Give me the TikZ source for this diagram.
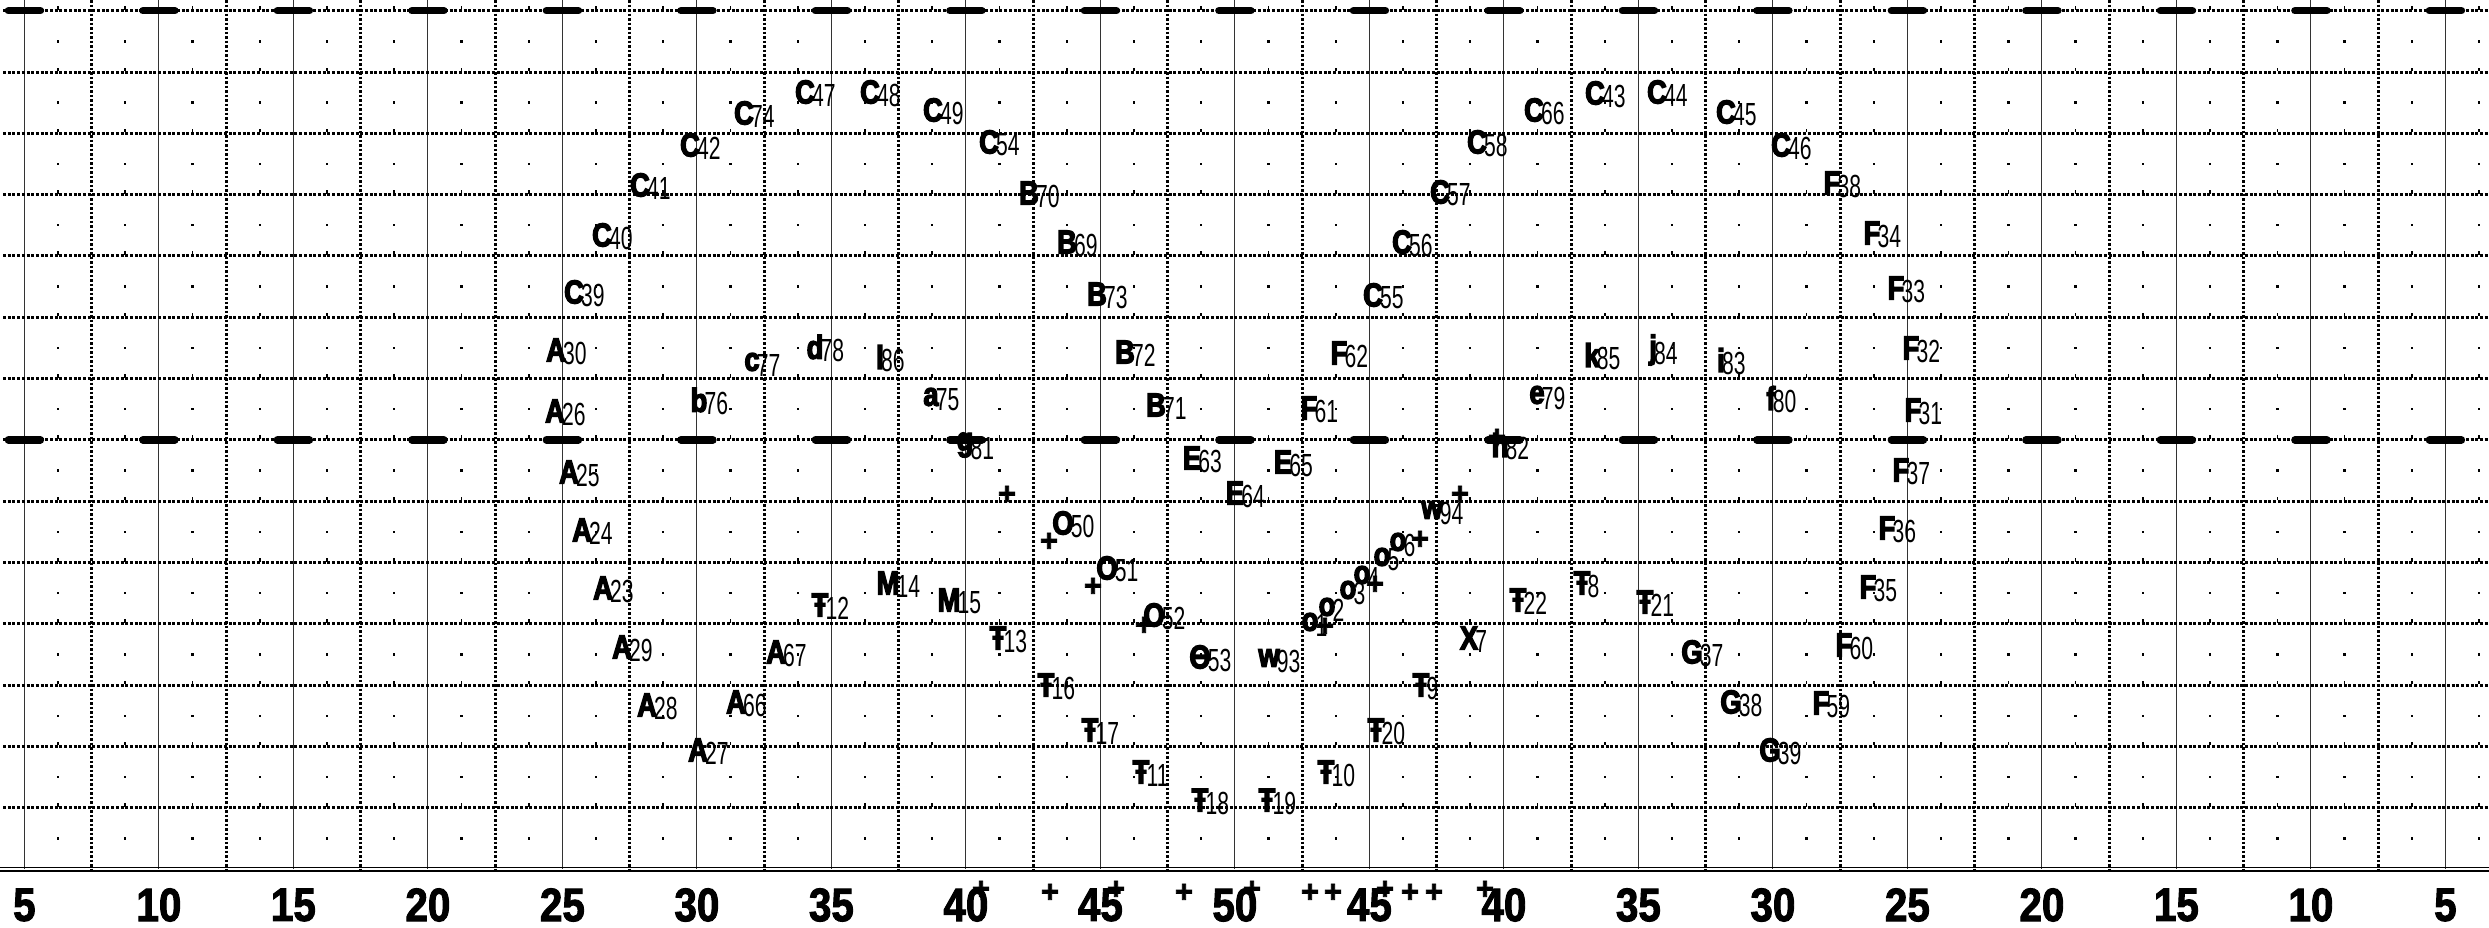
\documentclass[tikz,border=0pt]{standalone}
\usepackage{fontspec}
\setmainfont{Liberation Sans}
\newfontfamily\ltrfont[UprightFont={* Bold},FakeStretch=0.82,FakeBold=4]{Liberation Sans}
\newfontfamily\digfont[FakeStretch=0.66]{Liberation Sans}
\newfontfamily\axfont[UprightFont={* Bold},FakeStretch=0.86,FakeBold=2]{Liberation Sans}
\newfontfamily\plfont[UprightFont={* Bold},FakeBold=2.5]{Liberation Sans}
\tikzset{
  ltr/.style={font=\ltrfont\fontsize{33}{33}\selectfont, inner sep=0pt},
  dig/.style={font=\digfont\fontsize{32}{32}\selectfont, inner sep=0pt, anchor=west, yshift=-3pt, xshift=-3pt},
  pls/.style={font=\plfont\fontsize{31}{31}\selectfont, inner sep=0pt},
  axl/.style={font=\axfont\fontsize{47}{47}\selectfont, inner sep=0pt},
  vsolid/.style={line width=1pt, black!80},
  vdot/.style={line width=2.7pt, dash pattern=on 2.5pt off 2pt},
  hdot/.style={line width=3pt, dash pattern=on 3pt off 1.7pt},
  thickdash/.style={line width=7.5pt, line cap=round},
}
\newcommand\mylab[4]{\node[ltr,label={[dig]east:#2}] (#3) at (#4) {#1};}
\begin{document}
\begin{tikzpicture}[x=1pt,y=-1pt]
\useasboundingbox[fill=white] (0,0) rectangle (2489,927);
% grid
\foreach \k in {0,...,18} {\draw[vsolid] ({24.4+134.5*\k},0) -- ({24.4+134.5*\k},869);}
\foreach \j in {0,...,17} {\draw[vdot] ({91.65+134.5*\j},0) -- ({91.65+134.5*\j},869);}
\foreach \k in {0,...,13} {\draw[hdot] (3,{10.7+61.31*\k}) -- (2489,{10.7+61.31*\k});}
\foreach \i in {0,...,36} {
  \foreach \k in {0,...,13} {
    \fill ({24.4+33.625*(2*\i+1)-1.2},{10.7+61.31*(\k+0.5)-1.2}) rectangle ++(2.4,2.4);
    \fill ({24.4+33.625*(2*\i+1)-0.8},{10.7+61.31*\k-4.5}) rectangle ++(1.6,3.5);
  }
}
\foreach \k in {0,...,18} {
  \draw[thickdash] ({24.4+134.5*\k-16},10.7) -- ({24.4+134.5*\k+16},10.7);
  \draw[thickdash] ({24.4+134.5*\k-16},439.9) -- ({24.4+134.5*\k+16},439.9);
}
% axis
\draw[line width=1.4pt] (0,867.4) -- (2489,867.4);
\draw[line width=1.4pt] (0,870.9) -- (2489,870.9);
\foreach \k/\t in {0/5,1/10,2/15,3/20,4/25,5/30,6/35,7/40,8/45,9/50,10/45,11/40,12/35,13/30,14/25,15/20,16/15,17/10,18/5}
  {\node[axl] (ax\k) at ({24.4+134.5*\k},905) {\t};}
% labels
\mylab{C}{74}{C74}{744,113}
\mylab{C}{47}{C47}{805,92}
\mylab{C}{48}{C48}{870,92}
\mylab{C}{49}{C49}{933,110}
\mylab{C}{42}{C42}{690,145}
\mylab{C}{54}{C54}{989,142}
\mylab{C}{41}{C41}{640,185}
\mylab{B}{70}{B70}{1029,193}
\mylab{C}{40}{C40}{602,235}
\mylab{B}{69}{B69}{1067,242}
\mylab{C}{39}{C39}{574,292}
\mylab{B}{73}{B73}{1097,294}
\mylab{A}{30}{A30}{556,350}
\mylab{c}{77}{c77}{752,362}
\mylab{d}{78}{d78}{815,347}
\mylab{l}{86}{l86}{880,357}
\mylab{B}{72}{B72}{1125,352}
\mylab{A}{26}{A26}{555,411}
\mylab{b}{76}{b76}{699,400}
\mylab{a}{75}{a75}{931,397}
\mylab{B}{71}{B71}{1156,405}
\mylab{g}{81}{g81}{965,445}
\mylab{F}{62}{F62}{1339,353}
\mylab{F}{61}{F61}{1309,408}
\mylab{C}{55}{C55}{1373,295}
\mylab{C}{56}{C56}{1402,242}
\mylab{C}{57}{C57}{1440,192}
\mylab{C}{58}{C58}{1477,142}
\mylab{C}{66}{C66}{1534,110}
\mylab{C}{43}{C43}{1595,93}
\mylab{C}{44}{C44}{1657,92}
\mylab{C}{45}{C45}{1726,112}
\mylab{C}{46}{C46}{1781,145}
\mylab{F}{38}{F38}{1832,183}
\mylab{F}{34}{F34}{1872,233}
\mylab{F}{33}{F33}{1896,288}
\mylab{F}{32}{F32}{1911,348}
\mylab{i}{83}{i83}{1721,360}
\mylab{j}{84}{j84}{1653,350}
\mylab{k}{85}{k85}{1592,355}
\mylab{e}{79}{e79}{1537,395}
\mylab{f}{80}{f80}{1771,398}
\mylab{F}{31}{F31}{1913,410}
\mylab{h}{82}{h82}{1500,445}
\mylab{A}{25}{A25}{569,472}
\mylab{A}{24}{A24}{582,530}
\mylab{A}{23}{A23}{603,588}
\mylab{A}{29}{A29}{622,647}
\mylab{A}{67}{A67}{776,652}
\mylab{A}{28}{A28}{647,705}
\mylab{A}{66}{A66}{736,702}
\mylab{A}{27}{A27}{698,750}
\mylab{Ŧ}{12}{T12}{820,605}
\mylab{M}{14}{M14}{888,583}
\mylab{M}{15}{M15}{949,600}
\mylab{Ŧ}{13}{T13}{998,638}
\mylab{Θ}{53}{O53}{1200,657}
\mylab{w}{93}{w93}{1269,658}
\mylab{Ŧ}{16}{T16}{1046,685}
\mylab{Ŧ}{17}{T17}{1090,730}
\mylab{Ŧ}{11}{T11}{1141,772}
\mylab{Ŧ}{18}{T18}{1200,800}
\mylab{Ŧ}{19}{T19}{1267,800}
\mylab{Ŧ}{10}{T10}{1326,772}
\mylab{Ŧ}{20}{T20}{1376,730}
\mylab{Ŧ}{9}{T9}{1421,685}
\mylab{X}{7}{X7}{1469,638}
\mylab{Ŧ}{22}{T22}{1518,600}
\mylab{Ŧ}{8}{T8}{1582,583}
\mylab{Ŧ}{21}{T21}{1645,602}
\mylab{E}{63}{E63}{1192,458}
\mylab{E}{65}{E65}{1283,462}
\mylab{E}{64}{E64}{1235,493}
\mylab{O}{50}{O50}{1063,523}
\mylab{O}{51}{O51}{1107,568}
\mylab{O}{52}{O52}{1154,615}
\mylab{o}{1}{o1}{1310,622}
\mylab{o}{2}{o2}{1327,607}
\mylab{o}{3}{o3}{1348,590}
\mylab{o}{4}{o4}{1362,575}
\mylab{o}{5}{o5}{1382,557}
\mylab{o}{6}{o6}{1398,542}
\mylab{w}{94}{w94}{1432,510}
\mylab{F}{37}{F37}{1901,470}
\mylab{F}{36}{F36}{1887,528}
\mylab{F}{35}{F35}{1868,587}
\mylab{F}{60}{F60}{1844,645}
\mylab{F}{59}{F59}{1821,703}
\mylab{G}{37}{G37}{1692,652}
\mylab{G}{38}{G38}{1731,702}
\mylab{G}{39}{G39}{1770,750}
% plus markers
\foreach \n/\px/\py in {p1/1007/495,p2/1049/542,p3/1093/587,p4/1144/626,p5/1325/627,p6/1375/585,p7/1420/540,p8/1460/495,p9/1497/438,
  q1/981/890,q2/1050/893,q3/1116/890,q4/1184/893,q5/1252/890,q6/1310/893,q7/1333/893,q8/1385/890,q9/1410/893,q10/1434/893,q11/1485/890}
  {\node[pls] (\n) at (\px,\py) {+};}
\end{tikzpicture}
\end{document}
